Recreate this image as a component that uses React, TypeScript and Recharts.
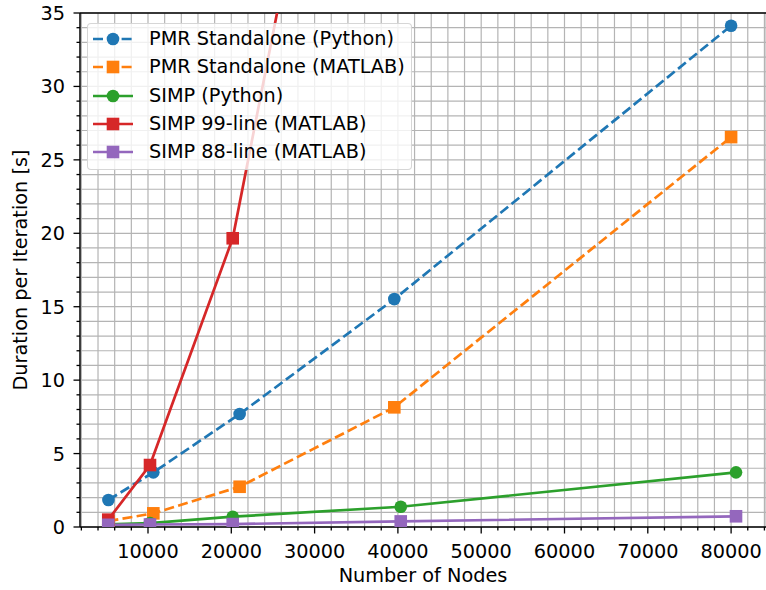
import React from 'react';
import { LineChart, Line, XAxis, YAxis, CartesianGrid, ReferenceLine, Legend } from 'recharts';

// mesh sizes (number of nodes) and timings
const pmrNodes = [5250, 10640, 21000, 39570, 80000];
const pmrPythonTime = [1.84, 3.72, 7.69, 15.52, 34.13];
const pmrMatlabTime = [0.4, 0.93, 2.74, 8.15, 26.55];

const simpNodes = [5230, 10240, 20170, 40340, 80590];
const simpPythonTime = [0.18, 0.27, 0.7, 1.38, 3.72];
const simp99Time = [0.5, 4.22, 19.66, 77.8];
const simp88Time = [0.15, 0.17, 0.2, 0.38, 0.73];

const xMajorTicks = [10000, 20000, 30000, 40000, 50000, 60000, 70000, 80000];
const yMajorTicks = [0, 5, 10, 15, 20, 25, 30, 35];
const xTicks = Array.from({ length: 42 }, (_, i) => (i + 1) * 2000);
const yTicks = Array.from({ length: 36 }, (_, i) => i);

const FONT = '"DejaVu Sans", sans-serif';
const FS = 19.3;

type Marker = 'circle' | 'square';

const series = [
  { name: 'PMR Standalone (Python)', nodes: pmrNodes, time: pmrPythonTime, color: '#1f77b4', marker: 'circle' as Marker, dashed: true },
  { name: 'PMR Standalone (MATLAB)', nodes: pmrNodes, time: pmrMatlabTime, color: '#ff7f0e', marker: 'square' as Marker, dashed: true },
  { name: 'SIMP (Python)', nodes: simpNodes, time: simpPythonTime, color: '#2ca02c', marker: 'circle' as Marker, dashed: false },
  { name: 'SIMP 99-line (MATLAB)', nodes: simpNodes, time: simp99Time, color: '#d62728', marker: 'square' as Marker, dashed: false },
  { name: 'SIMP 88-line (MATLAB)', nodes: simpNodes, time: simp88Time, color: '#9467bd', marker: 'square' as Marker, dashed: false },
];

const LINE_W = 2.7;
const DASH = '10 4.3';
const MS = 6.3;

const renderMarker = (shape: Marker, color: string, cx: number, cy: number, key?: string) =>
  shape === 'circle' ? (
    <circle key={key} cx={cx} cy={cy} r={MS} fill={color} />
  ) : (
    <rect key={key} x={cx - MS} y={cy - MS} width={MS * 2} height={MS * 2} fill={color} />
  );

const XTick = (props: any) => {
  const { x, y, payload } = props;
  const major = xMajorTicks.includes(payload.value);
  return (
    <g>
      <line x1={x} x2={x} y1={y} y2={y + (major ? 6.5 : 3.5)} stroke="#000" strokeWidth={1.3} />
      {major && (
        <text x={x} y={y + 31} textAnchor="middle" fontFamily={FONT} fontSize={FS} fill="#000">
          {payload.value}
        </text>
      )}
    </g>
  );
};

const YTick = (props: any) => {
  const { x, y, payload } = props;
  const major = yMajorTicks.includes(payload.value);
  return (
    <g>
      <line x1={x} x2={x - (major ? 6.5 : 3.5)} y1={y} y2={y} stroke="#000" strokeWidth={1.3} />
      {major && (
        <text x={x - 15} y={y + 7} textAnchor="end" fontFamily={FONT} fontSize={FS} fill="#000">
          {payload.value}
        </text>
      )}
    </g>
  );
};

const renderLegend = () => (
  <div
    style={{
      width: 325,
      height: 147,
      boxSizing: 'border-box',
      background: 'rgba(255,255,255,0.8)',
      border: '1.3px solid rgba(204,204,204,0.8)',
      borderRadius: 4,
      paddingTop: 1,
      fontFamily: FONT,
      fontSize: FS,
      color: '#000',
    }}
  >
    {series.map((s) => (
      <div key={s.name} style={{ display: 'flex', alignItems: 'center', height: 28.3, whiteSpace: 'nowrap' }}>
        <svg width={61} height={28} style={{ flex: 'none' }}>
          <line
            x1={5}
            x2={45}
            y1={14}
            y2={14}
            stroke={s.color}
            strokeWidth={LINE_W}
            strokeDasharray={s.dashed ? DASH : undefined}
          />
          {renderMarker(s.marker, s.color, 25, 14)}
        </svg>
        <span style={{ lineHeight: '28px' }}>{s.name}</span>
      </div>
    ))}
  </div>
);

export default function App() {
  return (
    <div style={{ position: 'absolute', left: 0, top: 0, width: 766, height: 590, background: '#fff' }}>
      <LineChart width={766} height={590} margin={{ top: 13, right: 0, bottom: 0, left: 0 }}>
        <CartesianGrid stroke="#b4b4b4" strokeWidth={1.2} />
        <XAxis
          type="number"
          dataKey="x"
          domain={[1837, 84190]}
          allowDataOverflow
          ticks={xTicks}
          interval={0}
          height={63}
          tickSize={0}
          tickMargin={0}
          tickLine={false}
          tick={<XTick />}
          axisLine={{ stroke: '#000', strokeWidth: 1.4 }}
          label={{
            content: (p: any) => (
              <text
                x={p.viewBox.x + p.viewBox.width / 2}
                y={p.viewBox.y + 55.3}
                textAnchor="middle"
                fontFamily={FONT}
                fontSize={FS}
                fill="#000"
              >
                Number of Nodes
              </text>
            ),
          }}
        />
        <YAxis
          type="number"
          domain={[0, 35]}
          allowDataOverflow
          ticks={yTicks}
          interval={0}
          width={80}
          tickSize={0}
          tickMargin={0}
          tickLine={false}
          tick={<YTick />}
          axisLine={{ stroke: '#000', strokeWidth: 1.4 }}
          label={{
            content: (p: any) => {
              const cx = p.viewBox.x + 27.3;
              const cy = p.viewBox.y + p.viewBox.height / 2;
              return (
                <text
                  x={cx}
                  y={cy}
                  transform={`rotate(-90 ${cx} ${cy})`}
                  textAnchor="middle"
                  fontFamily={FONT}
                  fontSize={FS}
                  fill="#000"
                >
                  Duration per Iteration [s]
                </text>
              );
            },
          }}
        />
        <ReferenceLine y={35} stroke="#000" strokeWidth={1.4} />
        {series.map((s) => (
          <Line
            key={s.name}
            name={s.name}
            data={s.time.map((t, i) => ({ x: s.nodes[i], y: t }))}
            dataKey="y"
            type="linear"
            stroke={s.color}
            strokeWidth={LINE_W}
            strokeDasharray={s.dashed ? DASH : undefined}
            dot={(p: any) => renderMarker(s.marker, s.color, p.cx, p.cy, `${s.name}-${p.index}`)}
            activeDot={false}
            isAnimationActive={false}
          />
        ))}
        <Legend
          layout="vertical"
          align="center"
          verticalAlign="middle"
          content={renderLegend}
          wrapperStyle={{ left: 87, top: 23, width: 'auto', height: 'auto' }}
        />
      </LineChart>
    </div>
  );
}
